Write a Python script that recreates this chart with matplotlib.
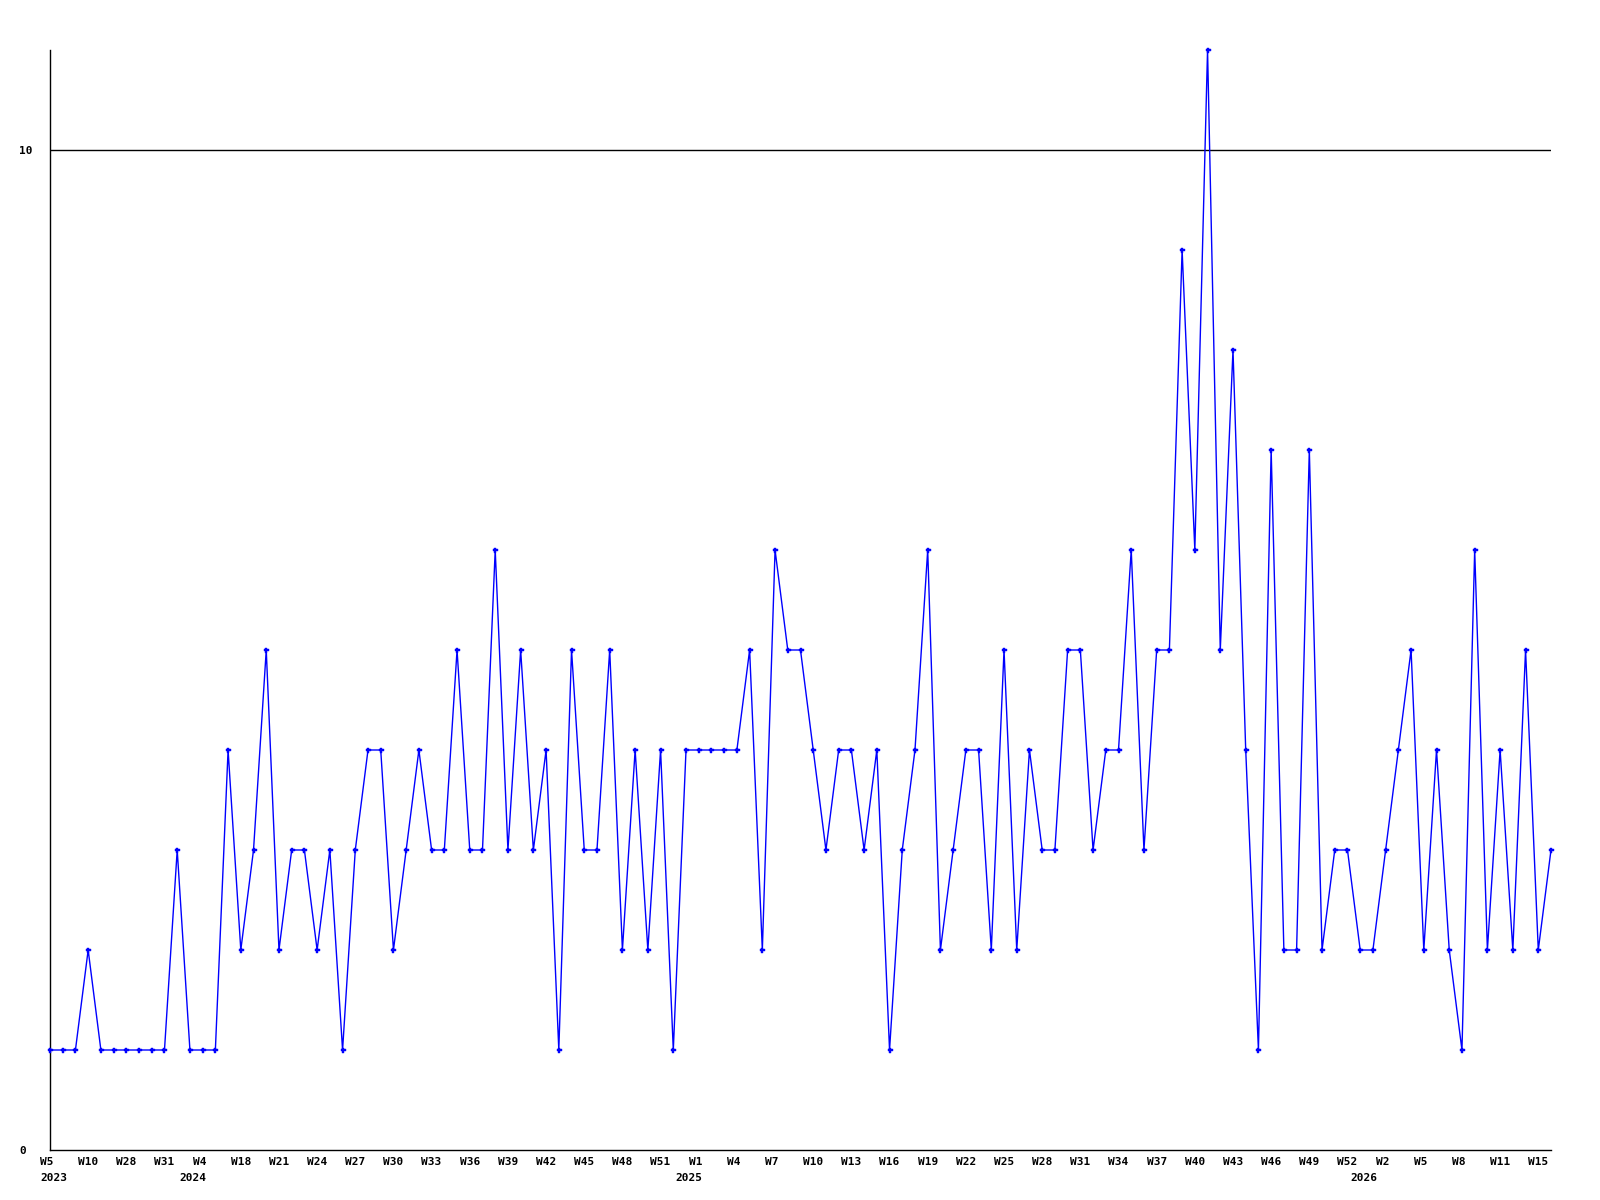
import matplotlib
matplotlib.use("Agg")
import matplotlib.pyplot as plt

# weekly counts, one point per week present in the data
counts = [1, 1, 1, 2, 1, 1, 1, 1, 1, 1,
          3, 1, 1, 1, 4, 2, 3, 5, 2, 3,
          3, 2, 3, 1, 3, 4, 4, 2, 3, 4,
          3, 3, 5, 3, 3, 6, 3, 5, 3, 4,
          1, 5, 3, 3, 5, 2, 4, 2, 4, 1,
          4, 4, 4, 4, 4, 5, 2, 6, 5, 5,
          4, 3, 4, 4, 3, 4, 1, 3, 4, 6,
          2, 3, 4, 4, 2, 5, 2, 4, 3, 3,
          5, 5, 3, 4, 4, 6, 3, 5, 5, 9,
          6, 11, 5, 8, 4, 1, 7, 2, 2, 7,
          2, 3, 3, 2, 2, 3, 4, 5, 2, 4,
          2, 1, 6, 2, 4, 2, 5, 2, 3]

# every third point gets a week label
tick_labels = ["W5", "W10", "W28", "W31", "W4", "W18", "W21", "W24", "W27", "W30",
               "W33", "W36", "W39", "W42", "W45", "W48", "W51", "W1", "W4", "W7",
               "W10", "W13", "W16", "W19", "W22", "W25", "W28", "W31", "W34", "W37",
               "W40", "W43", "W46", "W49", "W52", "W2", "W5", "W8", "W11", "W15"]

years = ["2023", "2024", "2025", "2026"]
year_pos = [0.27, 11.2, 50.2, 103.3]

font = {"family": "DejaVu Sans Mono", "weight": "bold", "size": 8}

fig = plt.figure(figsize=(16, 12), dpi=100)
ax = fig.add_axes([50 / 1600, 50 / 1200, 1501 / 1600, 1100 / 1200])

xx = range(len(counts))
ax.axhline(10, color="black", lw=1, zorder=1)
ax.plot(xx, counts, color="#0000ff", lw=1, marker="P", ms=3.6,
        mec="#0000ff", mfc="#0000ff", mew=0.3, clip_on=False, zorder=3)

ax.set_xlim(0, len(counts) - 1)
ax.set_ylim(0, 11)

for s in ["top", "right"]:
    ax.spines[s].set_visible(False)
for s in ["left", "bottom"]:
    ax.spines[s].set_linewidth(1)
    ax.spines[s].set_color("black")

ax.set_xticks(range(0, len(counts), 3))
ax.set_xticklabels([t.ljust(3) for t in tick_labels], fontdict=font)
ax.set_yticks([0, 10])
ax.set_yticklabels(["0", "10"], fontdict=font, ha="left")
ax.tick_params(axis="x", length=0, pad=5)
ax.tick_params(axis="y", length=0, pad=22.3)

for yr, pos in zip(years, year_pos):
    ax.annotate(yr, xy=(pos, 0), xycoords=("data", "axes fraction"),
                xytext=(0, -20), textcoords="offset points",
                ha="center", va="center", **font)

fig.savefig("out.png", dpi=100, facecolor="white")
